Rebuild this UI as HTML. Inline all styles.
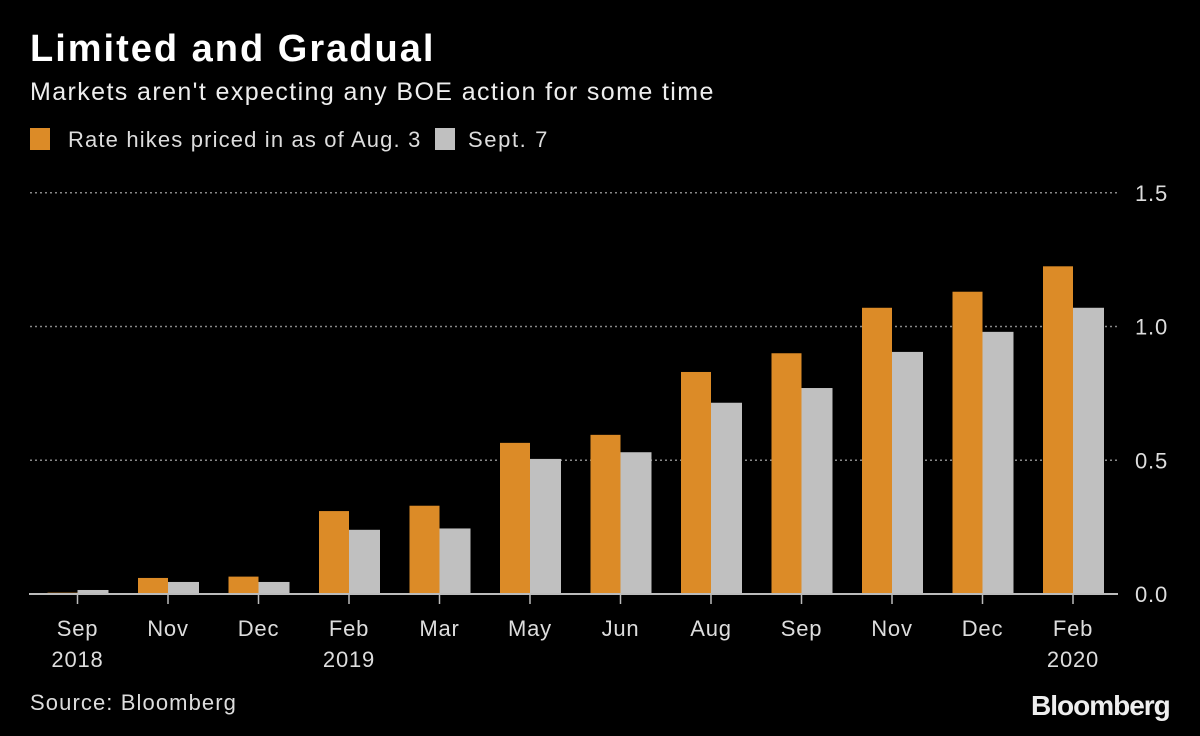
<!DOCTYPE html>
<html><head><meta charset="utf-8"><style>
html,body{margin:0;padding:0;background:#000;}
body{width:1200px;height:736px;overflow:hidden;font-family:"Liberation Sans",sans-serif;color:#fff;position:relative}
.t{position:absolute;white-space:nowrap}
</style></head><body>
<div class="t" style="left:30px;top:28px;font-size:38px;font-weight:bold;letter-spacing:2px">Limited and Gradual</div>
<div class="t" style="left:30px;top:78px;font-size:25px;letter-spacing:1.4px;color:#eee">Markets aren't expecting any BOE action for some time</div>
<div class="t" style="left:30px;top:127px;font-size:22px;color:#ddd;letter-spacing:1.15px"><span style="display:inline-block;width:20px;height:22px;background:#dc8b27;vertical-align:-3px;margin-right:18px"></span>Rate hikes priced in as of Aug. 3</div>
<div class="t" style="left:435px;top:127px;font-size:22px;color:#ddd;letter-spacing:1.6px"><span style="display:inline-block;width:20px;height:22px;background:#c0c0c0;vertical-align:-3px;margin-right:13px"></span>Sept. 7</div>
<div class="t" style="left:30px;top:690px;font-size:22px;color:#ddd;letter-spacing:1.1px">Source: Bloomberg</div>
<div class="t" style="left:1031px;top:690px;font-size:28px;font-weight:bold;letter-spacing:-1px;color:#eee">Bloomberg</div>
<svg id="chart" width="1200" height="736" style="position:absolute;left:0;top:0"></svg>
<script>
const categories=["Sep","Nov","Dec","Feb","Mar","May","Jun","Aug","Sep","Nov","Dec","Feb"];
const years=["2018","","","2019","","","","","","","","2020"];
const augValues=[0.005,0.06,0.065,0.31,0.33,0.565,0.595,0.83,0.9,1.07,1.13,1.225];
const septValues=[0.015,0.045,0.045,0.24,0.245,0.505,0.53,0.715,0.77,0.905,0.98,1.07];
const yTicks=[0,0.5,1.0,1.5];
const yTickLabels=["0.0","0.5","1.0","1.5"];
const svg=document.getElementById('chart');
const NS='http://www.w3.org/2000/svg';
const y=v=>594-v*267.5;
const x=i=>77.5+i*90.5;
function mk(t,a){const e=document.createElementNS(NS,t);for(const k in a)e.setAttribute(k,a[k]);svg.appendChild(e);return e;}
yTicks.forEach((v,i)=>{
  if(v>0){const g=mk('line',{x1:30,x2:1118,y1:y(v),y2:y(v),stroke:'#888','stroke-width':1.5,'stroke-dasharray':'2,3'});
  
  }
  const t=mk('text',{x:1168,y:y(v)+8,'text-anchor':'end','font-size':22,fill:'#ddd','font-family':'Liberation Sans, sans-serif','letter-spacing':0.8});
  t.textContent=yTickLabels[i];
  
  
});
categories.forEach((c,i)=>{
  const a=mk('rect',{x:x(i)-30,y:y(augValues[i]),width:30,height:594-y(augValues[i]),fill:'#dc8b27'});
  
  
  const s=mk('rect',{x:x(i),y:y(septValues[i]),width:31,height:594-y(septValues[i]),fill:'#c0c0c0'});
  
  
  const tk=mk('line',{x1:x(i),x2:x(i),y1:594,y2:604,stroke:'#bbb','stroke-width':1.5});
  
  
  const t=mk('text',{x:x(i),y:636,'text-anchor':'middle','font-size':22,fill:'#ddd','font-family':'Liberation Sans, sans-serif','letter-spacing':0.8});
  t.textContent=c;
  
  
  if(years[i]){const yt=mk('text',{x:x(i),y:667,'text-anchor':'middle','font-size':22,fill:'#ddd','font-family':'Liberation Sans, sans-serif','letter-spacing':0.8});
  yt.textContent=years[i];
  
  }
});
const base=mk('line',{x1:29,x2:1118,y1:594,y2:594,stroke:'#bbb','stroke-width':2});


</script>
</body></html>
